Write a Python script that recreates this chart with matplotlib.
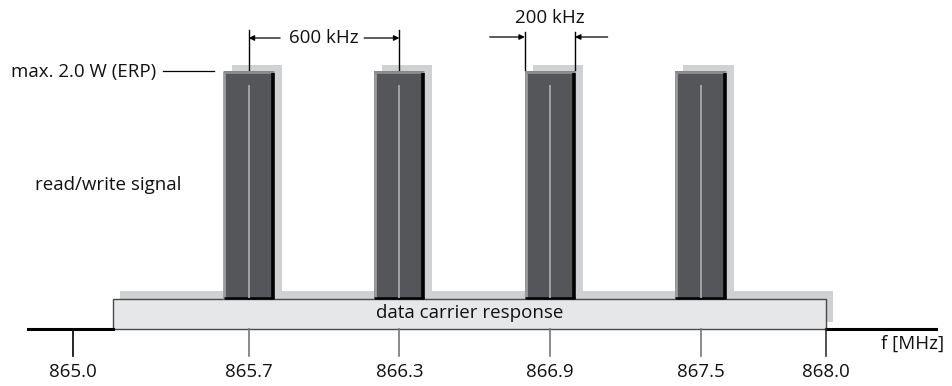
import matplotlib
matplotlib.use("Agg")
import matplotlib.pyplot as plt
from matplotlib.patches import Rectangle

plt.rcParams["font.family"] = ["Open Sans", "DejaVu Sans"]

# channel data (MHz)
channel_centers = [865.7, 866.3, 866.9, 867.5]
channel_width = 0.2
carrier_band = [865.16, 868.0]
tick_values = [865.0, 865.7, 866.3, 866.9, 867.5, 868.0]
tick_labels = ["865.0", "865.7", "866.3", "866.9", "867.5", "868.0"]
axis_range = [864.82, 868.44]

# levels (drawing units, axis at 0)
carrier_level = 30
signal_level = 258

BAR = "#55565a"
SHADOW = "#d0d1d3"
BOX = "#e6e7e8"
FS = 13.5

fig = plt.figure(figsize=(9.53, 3.86), dpi=100)
ax = fig.add_axes([0, 0, 1, 1])
ax.set_xlim(864.709, 868.506)
ax.set_ylim(-57, 329)
ax.axis("off")

dx = 8 / 251  # shadow offset in MHz
dy = 7

# shadows
ax.add_patch(Rectangle((carrier_band[0] + dx * 0.9, 7), carrier_band[1] - carrier_band[0],
                       carrier_level + 1, facecolor=SHADOW, edgecolor="none", zorder=1))
for c in channel_centers:
    ax.add_patch(Rectangle((c - channel_width / 2 + dx, carrier_level), channel_width,
                           signal_level - carrier_level + dy - 1, facecolor=SHADOW,
                           edgecolor="none", zorder=1))

# data carrier box
ax.add_patch(Rectangle((carrier_band[0], 0), carrier_band[1] - carrier_band[0], carrier_level,
                       facecolor=BOX, edgecolor="#4a4a4a", linewidth=1, zorder=2))
ax.text(sum(carrier_band) / 2, carrier_level / 2 + 1, "data carrier response",
        ha="center", va="center", fontsize=FS, color="#111", zorder=5)

# read/write signal bars
for c in channel_centers:
    l, r = c - channel_width / 2, c + channel_width / 2
    ax.add_patch(Rectangle((l, carrier_level), channel_width, signal_level - carrier_level,
                           facecolor=BAR, edgecolor="none", zorder=3))
    ax.plot([l + 0.003, l + 0.003], [carrier_level, signal_level], color="#9c9c9e", lw=2,
            solid_capstyle="butt", zorder=4)
    ax.plot([l, r], [signal_level - 1, signal_level - 1], color="#8e8e90", lw=2,
            solid_capstyle="butt", zorder=4)
    ax.plot([r - 0.004, r - 0.004], [carrier_level, signal_level - 2], color="black", lw=2.6,
            solid_capstyle="butt", zorder=4)
    ax.plot([l, r], [carrier_level + 1, carrier_level + 1], color="black", lw=1.8,
            solid_capstyle="butt", zorder=4)
    ax.plot([c, c], [carrier_level + 1, signal_level - 14], color="#a8a8aa", lw=1.3,
            solid_capstyle="butt", zorder=4)

# frequency axis
ax.plot([axis_range[0], carrier_band[0]], [0, 0], color="black", lw=2.2, zorder=3)
ax.plot([carrier_band[1], axis_range[1]], [0, 0], color="black", lw=2.2, zorder=3)
for v, lab in zip(tick_values, tick_labels):
    col = "black" if v == tick_values[0] else ("#333" if v == tick_values[-1] else "#777")
    ax.plot([v, v], [0, -27], color=col, lw=1.2, zorder=3)
    ax.text(v, -43, lab, ha="center", va="center", fontsize=FS, color="#111")
ax.text(868.47, -15, "f [MHz]", ha="right", va="center", fontsize=FS, color="#111")

# labels on the left
ax.text(865.33, signal_level - 1, "max. 2.0 W (ERP)", ha="right", va="center",
        fontsize=FS, color="#111")
ax.plot([865.36, 865.56], [signal_level, signal_level], color="black", lw=0.9)
ax.text(864.85, 144, "read/write signal", ha="left", va="center", fontsize=FS, color="#111")

# 600 kHz spacing marker
a, b = channel_centers[0], channel_centers[1]
for x in (a, b):
    ax.plot([x, x], [signal_level + 1, 299], color="black", lw=1)
arr = dict(arrowstyle="-|>", color="black", lw=0.9, mutation_scale=8, shrinkA=0, shrinkB=0)
ax.annotate("", xy=(a, 291), xytext=(a + 0.125, 291), arrowprops=arr)
ax.annotate("", xy=(b, 291), xytext=(b - 0.14, 291), arrowprops=arr)
ax.text((a + b) / 2 - 0.002, 291, "600 kHz", ha="center", va="center", fontsize=FS, color="#111")

# 200 kHz channel width marker
l = channel_centers[2] - channel_width / 2
r = channel_centers[2] + channel_width / 2
for x in (l, r):
    ax.plot([x, x], [signal_level + 1, 297], color="black", lw=1)
ax.annotate("", xy=(l, 292), xytext=(l - 0.14, 292), arrowprops=arr)
ax.annotate("", xy=(r, 292), xytext=(r + 0.13, 292), arrowprops=arr)
ax.text(channel_centers[2], 311, "200 kHz", ha="center", va="center", fontsize=FS, color="#111")

fig.savefig("out.png", dpi=100)
